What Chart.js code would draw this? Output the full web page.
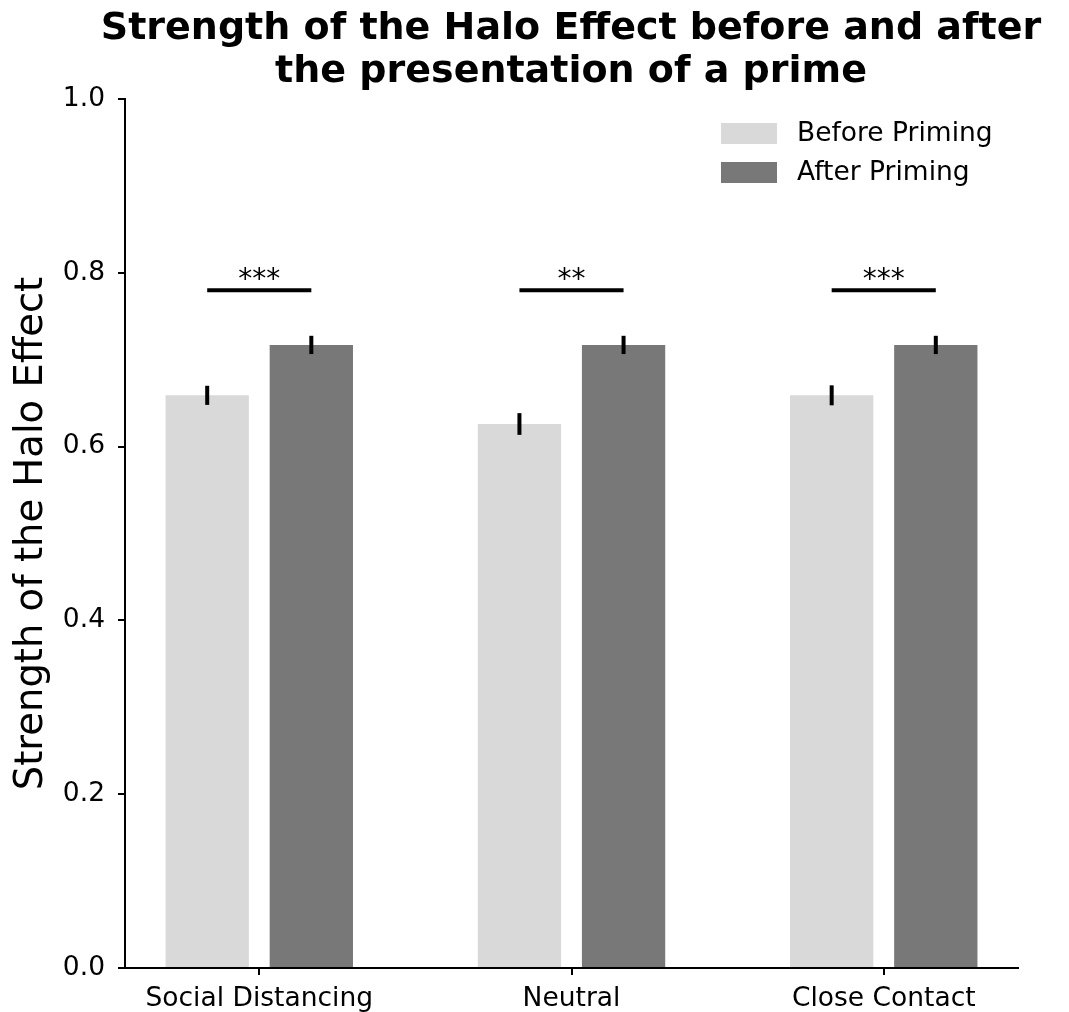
<!DOCTYPE html>
<html>
<head>
<meta charset="utf-8">
<script src="https://cdn.jsdelivr.net/npm/chart.js@4.4.1/dist/chart.umd.min.js"></script>
<style>
  body { margin: 0; background: #fff; overflow: hidden; }
  #wrap { position: relative; width: 1069px; height: 1012px; }
  #chart { position: absolute; left: 0; top: 0; }
  #title {
    position: absolute; left: 71px; top: 5px; width: 1000px;
    text-align: center; white-space: nowrap;
    font: bold 38px "DejaVu Sans"; line-height: 43px; color: #000;
  }
</style>
</head>
<body>
<div id="wrap">
  <canvas id="chart" width="1069" height="1012"></canvas>
  <div id="title">Strength of the Halo Effect before and after<br>the presentation of a prime</div>
</div>
<script>
// data
const categories = ['Social Distancing', 'Neutral', 'Close Contact']
const beforePriming = [0.659, 0.626, 0.659]
const afterPriming = [0.717, 0.717, 0.717]
const beforeErr = [0.011, 0.0125, 0.0115]
const afterErr = [0.0105, 0.0105, 0.0105]
const sigLevel = [0.78, 0.78, 0.78]
const sigStars = ['***', '**', '***']
const yTicks = [0, 0.2, 0.4, 0.6, 0.8, 1.0]

const errors = [beforeErr, afterErr]

// error bars on top of each bar
const errorBars = {
    id: 'errorBars',
    afterDatasetsDraw(chart) {
        const ctx = chart.ctx
        const y = chart.scales.y
        ctx.save()
        ctx.strokeStyle = '#000'
        ctx.lineWidth = 4
        chart.data.datasets.forEach((ds, i) => {
            const meta = chart.getDatasetMeta(i)
            meta.data.forEach((bar, j) => {
                const v = ds.data[j].y
                ctx.beginPath()
                ctx.moveTo(bar.x, y.getPixelForValue(v - errors[i][j]))
                ctx.lineTo(bar.x, y.getPixelForValue(v + errors[i][j]))
                ctx.stroke()
            })
        })
        ctx.restore()
    }
}

// significance brackets
const sigBars = {
    id: 'sigBars',
    afterDatasetsDraw(chart) {
        const ctx = chart.ctx
        const y = chart.scales.y
        const m0 = chart.getDatasetMeta(0)
        const m1 = chart.getDatasetMeta(1)
        ctx.save()
        ctx.strokeStyle = '#000'
        ctx.fillStyle = '#000'
        ctx.lineWidth = 4
        ctx.font = '28px "DejaVu Sans"'
        ctx.textAlign = 'center'
        ctx.textBaseline = 'alphabetic'
        categories.forEach((c, j) => {
            const x1 = m0.data[j].x
            const x2 = m1.data[j].x
            const py = y.getPixelForValue(sigLevel[j])
            ctx.beginPath()
            ctx.moveTo(x1, py)
            ctx.lineTo(x2, py)
            ctx.stroke()
            ctx.fillText(sigStars[j], (x1 + x2) / 2, py - 2)
        })
        ctx.restore()
    }
}

// legend inside the plot, upper right
const innerLegend = {
    id: 'innerLegend',
    afterDraw(chart) {
        const ctx = chart.ctx
        const ca = chart.chartArea
        const x0 = ca.right - 297
        const y0 = ca.top + 24
        ctx.save()
        ctx.font = '26.5px "DejaVu Sans"'
        ctx.textAlign = 'left'
        ctx.textBaseline = 'middle'
        chart.data.datasets.forEach((ds, i) => {
            const top = y0 + i * 39
            ctx.fillStyle = ds.backgroundColor
            ctx.fillRect(x0, top, 56, 21)
            ctx.fillStyle = '#000'
            ctx.fillText(ds.label, x0 + 76, top + 11)
        })
        ctx.restore()
    }
}

Chart.defaults.font.family = '"DejaVu Sans"'
Chart.defaults.color = '#000'

const ctx = document.getElementById('chart').getContext('2d')
new Chart(ctx, {
    type: 'bar',
    data: {
        datasets: [{
            label: 'Before Priming',
            data: categories.map((c, i) => ({ x: i, y: beforePriming[i] })),
            backgroundColor: '#d9d9d9',
            borderWidth: 0
        }, {
            label: 'After Priming',
            data: categories.map((c, i) => ({ x: i, y: afterPriming[i] })),
            backgroundColor: '#787878',
            borderWidth: 0
        }]
    },
    options: {
        responsive: false,
        animation: false,
        devicePixelRatio: 1,
        categoryPercentage: 0.667,
        barPercentage: 0.8,
        layout: { padding: { top: 99, left: 0, right: 51, bottom: 0 } },
        plugins: {
            legend: { display: false },
            title: { display: false },
            tooltip: { enabled: false }
        },
        scales: {
            x: {
                type: 'linear',
                min: -0.43,
                max: 2.43,
                offset: false,
                afterBuildTicks: (scale) => {
                    scale.ticks = categories.map((c, i) => ({ value: i }))
                },
                afterFit: (scale) => { scale.height = 44 },
                ticks: {
                    autoSkip: false,
                    maxRotation: 0,
                    padding: 8,
                    font: { size: 26.5 },
                    callback: (v) => categories[v]
                },
                grid: { offset: false, drawOnChartArea: false, tickLength: 7, color: '#000', lineWidth: 2 },
                border: { color: '#000', width: 2 }
            },
            y: {
                min: 0,
                max: 1,
                afterBuildTicks: (scale) => {
                    scale.ticks = yTicks.map(v => ({ value: v }))
                },
                afterFit: (scale) => { scale.width = 125 },
                ticks: {
                    padding: 13,
                    font: { size: 26.5 },
                    callback: (v) => v.toFixed(1)
                },
                grid: { drawOnChartArea: false, tickLength: 7, color: '#000', lineWidth: 2 },
                border: { color: '#000', width: 2 },
                title: {
                    display: true,
                    text: 'Strength of the Halo Effect',
                    font: { size: 38.5 },
                    padding: { top: 9, bottom: 0 }
                }
            }
        }
    },
    plugins: [errorBars, sigBars, innerLegend]
})
</script>
</body>
</html>
